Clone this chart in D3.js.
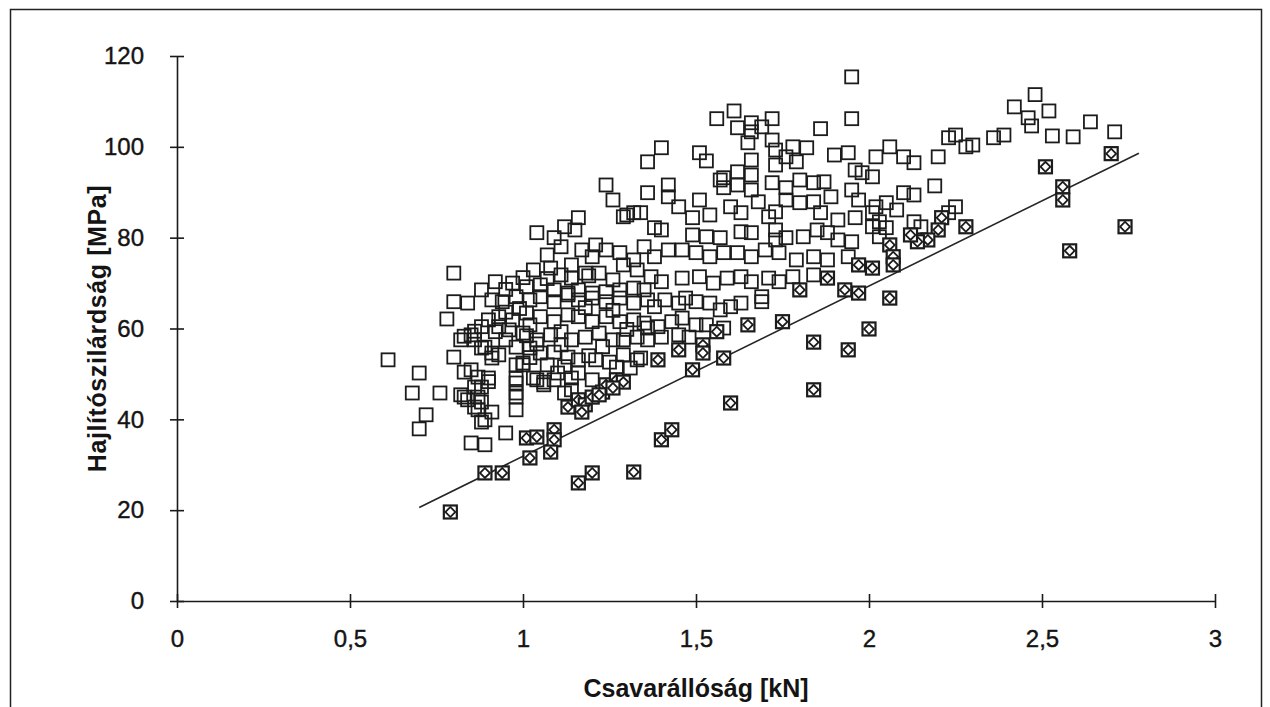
<head>
    <meta charset="utf-8">
    <title>scatter</title>
    <script src="https://d3js.org/d3.v7.min.js"></script>
    <style>
        body { margin: 0; background: #fff; }
        text { font-family: "Liberation Sans", Arial, sans-serif; fill: #141414; }
    </style>
</head>

<body>
    <svg width="1270" height="707"></svg>
    <script>
        var xTicks = [0, 0.5, 1, 1.5, 2, 2.5, 3];
        var yTicks = [0, 20, 40, 60, 80, 100, 120];
        var xTitle = "Csavarállóság [kN]";
        var yTitle = "Hajlítószilárdság [MPa]";

        // fitted line, two end points
        var lineX = [0.70, 2.78];
        var lineY = [20.6, 98.6];

        // plain open squares [kN, MPa]
        var openPts = [
            [0.61, 53.1], [0.80, 72.2], [0.80, 65.9], [0.84, 65.6], [0.78, 62.1], [0.70, 50.2], [0.68, 45.8], [0.76, 45.8],
            [0.72, 41.0], [0.70, 37.9], [0.80, 53.7], [0.85, 34.8], [0.89, 34.4], [0.95, 37.0], [0.98, 42.1], [0.98, 48.0],
            [0.98, 44.9], [1.00, 52.4], [0.85, 50.9], [0.87, 49.3], [0.90, 49.1], [0.86, 47.1], [0.88, 47.1], [0.87, 44.9],
            [0.88, 43.8], [0.91, 41.6], [0.87, 42.1], [0.89, 39.9], [0.83, 44.9], [0.84, 44.3], [0.82, 57.5], [0.85, 58.6],
            [0.86, 57.5], [0.89, 55.9], [0.91, 54.6], [0.91, 53.5], [0.88, 68.5], [0.92, 70.3], [0.97, 70.0], [0.91, 66.3],
            [0.94, 65.9], [0.98, 67.0], [0.88, 60.4], [0.90, 61.9], [0.93, 60.4], [0.96, 59.7], [1.00, 59.0], [1.02, 60.8],
            [1.04, 57.5], [1.03, 72.9], [1.08, 73.3], [1.14, 74.0], [1.18, 72.2], [0.98, 52.0], [1.00, 52.0], [1.04, 48.7],
            [1.06, 48.2], [1.10, 50.2], [1.12, 45.8], [1.14, 46.5], [0.82, 45.4], [0.98, 45.8], [0.86, 42.7], [0.88, 39.4],
            [0.83, 50.4], [0.92, 59.3], [1.01, 58.4], [0.86, 59.4], [0.83, 58.3], [1.04, 56.6], [0.93, 54.2], [0.98, 49.0],
            [1.06, 47.6], [0.90, 48.3], [0.95, 63.6], [0.99, 64.4], [0.95, 68.6], [1.00, 71.2], [1.07, 71.0], [1.02, 53.6],
            [1.24, 91.6], [1.26, 88.3], [1.36, 96.7], [1.36, 89.9], [1.29, 84.6], [1.32, 85.5], [1.34, 85.5],
            [1.16, 84.4], [1.12, 82.4], [1.15, 81.7], [1.04, 81.1], [1.09, 80.0], [1.11, 78.0], [1.21, 78.4], [1.17, 77.3],
            [1.24, 77.3], [1.20, 75.8], [1.28, 76.7], [1.32, 75.1], [1.35, 78.0], [1.11, 71.8], [1.14, 71.1], [1.19, 71.6],
            [1.22, 72.2], [1.26, 70.7], [1.29, 74.0], [1.33, 72.9], [1.01, 69.2], [1.05, 69.6], [1.09, 68.5], [1.13, 67.8],
            [1.16, 68.5], [1.20, 67.8], [1.24, 68.1], [1.28, 68.5], [1.32, 68.9], [1.35, 68.5], [1.02, 66.3], [1.05, 67.0],
            [1.09, 65.9], [1.13, 67.4], [1.16, 66.3], [1.20, 66.7], [1.24, 65.9], [1.28, 66.7], [1.32, 65.6], [1.36, 66.3],
            [0.93, 62.6], [0.97, 61.9], [1.01, 63.4], [1.05, 62.6], [1.09, 61.5], [1.13, 63.0], [1.16, 62.6], [1.20, 61.5],
            [1.24, 62.6], [1.28, 61.5], [1.32, 61.9], [1.35, 61.2], [0.95, 57.5], [1.08, 58.6], [1.11, 59.3], [1.14, 57.5],
            [1.18, 58.1], [1.22, 59.0], [1.26, 57.5], [1.29, 57.5], [1.33, 58.1], [0.88, 55.7], [0.98, 55.9], [1.02, 55.7],
            [1.05, 54.6], [1.09, 54.8], [1.13, 53.7], [1.16, 53.1], [1.19, 54.0], [1.21, 53.1], [1.25, 52.6], [1.29, 54.2],
            [1.33, 53.1], [1.07, 52.0], [1.12, 51.6], [1.27, 51.5], [1.31, 51.3], [1.03, 49.1], [1.09, 48.7], [1.14, 49.1],
            [1.16, 50.2], [1.20, 48.7], [1.18, 64.6], [1.26, 64.0], [1.11, 56.4], [1.23, 56.0], [1.30, 59.8], [1.07, 76.2],
            [1.42, 91.6], [1.42, 89.0], [1.51, 88.3], [1.57, 92.7], [1.58, 91.0], [1.62, 91.6], [1.66, 93.8], [1.66, 90.5],
            [1.72, 92.1], [1.76, 91.0], [1.80, 92.7], [1.84, 92.1], [1.87, 92.3], [1.89, 89.0], [1.95, 90.5], [1.97, 88.3],
            [2.01, 93.4], [1.45, 86.8], [1.49, 84.4], [1.54, 85.0], [1.60, 86.8], [1.63, 85.5], [1.68, 87.9], [1.71, 84.6],
            [1.73, 85.7], [1.76, 88.3], [1.80, 87.7], [1.84, 87.9], [1.86, 85.5], [1.91, 83.9], [1.96, 84.4], [2.01, 85.5],
            [1.38, 82.2], [1.40, 81.7], [1.49, 80.6], [1.53, 80.2], [1.57, 80.0], [1.63, 81.3], [1.66, 81.1], [1.73, 81.7],
            [1.73, 79.5], [1.76, 80.0], [1.81, 80.2], [1.85, 81.7], [1.88, 81.1], [1.91, 79.5], [1.95, 79.1], [2.01, 82.4],
            [1.38, 75.8], [1.42, 77.3], [1.46, 77.3], [1.50, 76.7], [1.54, 75.8], [1.58, 76.7], [1.62, 76.7], [1.66, 75.8],
            [1.70, 77.3], [1.74, 76.7], [1.79, 75.1], [1.84, 75.8], [1.88, 75.1], [1.94, 75.8], [1.37, 71.4], [1.40, 70.3],
            [1.46, 71.1], [1.51, 71.4], [1.55, 70.0], [1.59, 71.1], [1.63, 71.4], [1.66, 70.3], [1.71, 71.1], [1.74, 70.3],
            [1.78, 71.4], [1.84, 71.8], [1.38, 64.8], [1.41, 66.3], [1.45, 65.6], [1.47, 66.7], [1.50, 65.9], [1.54, 65.6],
            [1.57, 64.1], [1.60, 64.8], [1.63, 65.6], [1.69, 67.0], [1.69, 65.9], [1.36, 60.1], [1.39, 60.4], [1.43, 61.5],
            [1.46, 62.3], [1.50, 60.8], [1.53, 60.8], [1.58, 60.1], [1.36, 57.5], [1.40, 58.1], [1.45, 58.6], [1.48, 58.1],
            [1.34, 53.5],
            [2.10, 89.9], [2.13, 89.4], [2.05, 87.7], [2.02, 86.8], [2.08, 86.1], [2.25, 86.8], [2.23, 85.5], [2.13, 83.5],
            [2.15, 82.4], [2.03, 83.5], [2.05, 82.2], [2.03, 80.2],
            [2.48, 111.5], [2.42, 108.8], [2.52, 107.9], [2.46, 106.4], [2.47, 104.6], [2.53, 102.4], [2.59, 102.2], [2.64, 105.5],
            [2.71, 103.3], [2.36, 102.0], [2.39, 102.6], [2.23, 102.0], [2.25, 102.6], [2.28, 100.0], [2.30, 100.4], [2.20, 97.8],
            [2.06, 100.0], [2.10, 97.8], [2.13, 96.5], [2.19, 91.4],
            [1.95, 115.4], [1.95, 106.2], [1.61, 107.9], [1.56, 106.2], [1.62, 104.2], [1.66, 105.3], [1.72, 106.2], [1.69, 104.4],
            [1.66, 103.3], [1.86, 104.0], [1.65, 100.9], [1.72, 101.5], [1.73, 99.3], [1.78, 100.0], [1.76, 97.8], [1.79, 96.7],
            [1.73, 96.0], [1.82, 99.8], [1.90, 98.2], [1.94, 98.7], [1.96, 94.9], [1.98, 94.3], [2.02, 97.8], [1.40, 99.8],
            [1.51, 98.7], [1.53, 96.9], [1.66, 97.1], [1.58, 93.2], [1.62, 94.5], [1.30, 85.0]
        ];

        // squares drawn with the inner mark (lower edge / below the line)
        var markedPts = [
            [1.01, 35.9], [1.04, 36.1], [1.09, 37.7], [1.09, 35.5], [1.02, 31.5], [1.08, 32.8], [0.89, 28.2], [0.94, 28.2],
            [1.16, 26.0], [1.20, 28.2], [0.79, 19.6], [1.32, 28.4], [1.40, 35.5], [1.43, 37.7], [1.60, 43.6], [1.84, 46.5],
            [1.13, 42.7], [1.16, 44.3], [1.18, 43.2], [1.20, 44.9], [1.23, 46.0], [1.24, 47.6], [1.27, 48.7], [1.29, 48.2],
            [1.17, 41.6], [1.26, 46.9], [1.22, 45.4],
            [1.56, 59.3], [1.65, 60.8], [1.39, 53.1], [1.45, 55.3], [1.52, 56.4], [1.52, 54.6], [1.58, 53.5], [1.49, 50.9],
            [1.75, 61.5], [1.84, 57.0], [1.94, 55.3], [2.00, 59.9], [1.80, 68.5], [1.88, 71.1], [1.93, 68.5], [1.97, 67.8],
            [1.97, 74.0], [2.01, 73.3],
            [2.21, 84.4], [2.20, 81.7], [2.17, 79.5], [2.14, 79.1], [2.12, 80.6], [2.28, 82.4], [2.06, 78.4], [2.07, 75.8],
            [2.07, 74.0], [2.06, 66.7],
            [2.51, 95.6], [2.56, 91.2], [2.56, 88.3], [2.70, 98.5], [2.74, 82.4], [2.58, 77.1]
        ];

        var svg = d3.select("svg");
        var x = d3.scaleLinear().domain([0, 3]).range([177, 1215]);
        var y = d3.scaleLinear().domain([0, 120]).range([601, 56]);
        var fmt = function (d) { return String(d).replace(".", ","); };

        // frame
        svg.append("rect")
            .attr("x", 10.5).attr("y", 9.5)
            .attr("width", 1251).attr("height", 720)
            .attr("fill", "none").attr("stroke", "#222").attr("stroke-width", 1.5);

        var gx = svg.append("g").attr("transform", "translate(0," + y(0) + ")")
            .call(d3.axisBottom(x).tickValues(xTicks).tickFormat(fmt).tickSizeInner(7).tickSizeOuter(0));
        var gy = svg.append("g").attr("transform", "translate(" + x(0) + ",0)")
            .call(d3.axisLeft(y).tickValues(yTicks).tickSizeInner(7).tickSizeOuter(0));

        gx.selectAll(".tick line").attr("y1", -7).attr("y2", 7);
        gy.selectAll(".tick line").attr("x1", -7).attr("x2", 7);
        svg.selectAll(".domain, .tick line").attr("stroke", "#1a1a1a").attr("stroke-width", 1.6);
        svg.selectAll(".tick text")
            .attr("font-size", 24)
            .attr("font-family", "Liberation Sans, Arial, sans-serif")
            .attr("fill", "#141414").attr("stroke", "#141414").attr("stroke-width", 0.4);
        gx.selectAll(".tick text").attr("y", 29);
        gy.selectAll(".tick text").attr("x", -33);

        svg.append("text")
            .attr("x", x(1.5)).attr("y", 697)
            .attr("text-anchor", "middle").attr("font-size", 25).attr("font-weight", "bold")
            .text(xTitle);
        svg.append("text")
            .attr("transform", "translate(106," + y(60) + ") rotate(-90)")
            .attr("text-anchor", "middle").attr("font-size", 25).attr("font-weight", "bold")
            .attr("letter-spacing", 0.6)
            .text(yTitle);

        // regression line
        svg.append("line")
            .attr("x1", x(lineX[0])).attr("y1", y(lineY[0]))
            .attr("x2", x(lineX[1])).attr("y2", y(lineY[1]))
            .attr("stroke", "#262626").attr("stroke-width", 1.6);

        var s = 13;
        svg.append("g").selectAll("rect")
            .data(openPts)
            .enter()
            .append("rect")
            .attr("x", function (d) { return x(d[0]) - s / 2; })
            .attr("y", function (d) { return y(d[1]) - s / 2; })
            .attr("width", s).attr("height", s)
            .attr("fill", "none").attr("stroke", "#1c1c1c").attr("stroke-width", 1.8);

        var mk = svg.append("g").selectAll("g")
            .data(markedPts)
            .enter()
            .append("g")
            .attr("transform", function (d) { return "translate(" + x(d[0]) + "," + y(d[1]) + ")"; });
        mk.append("rect")
            .attr("x", -s / 2).attr("y", -s / 2)
            .attr("width", s).attr("height", s)
            .attr("fill", "#fff").attr("stroke", "#1c1c1c").attr("stroke-width", 2.2);
        mk.append("rect")
            .attr("x", -3.5).attr("y", -3.5)
            .attr("width", 7).attr("height", 7)
            .attr("transform", "rotate(45)")
            .attr("fill", "none").attr("stroke", "#1c1c1c").attr("stroke-width", 1.8);
    </script>
</body>
